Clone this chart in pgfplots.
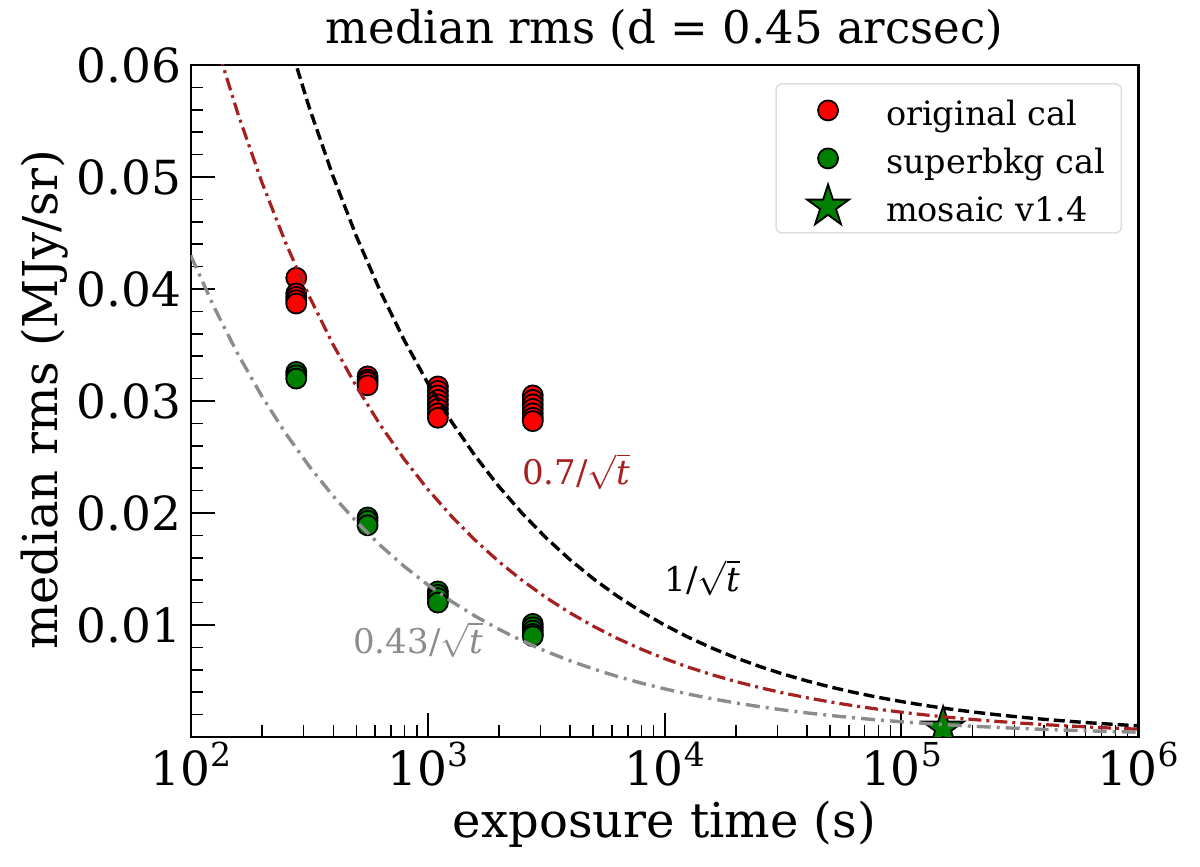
\documentclass[border=0pt]{standalone}
\usepackage{pgfplots}
\pgfplotsset{compat=1.18}
\usepackage{pgfplotstable}
\usepackage{fontspec}
\setmainfont{DejaVu Serif}
\definecolor{lred}{RGB}{165,32,32}
\definecolor{lgray}{RGB}{140,140,140}
\definecolor{mgreen}{RGB}{0,128,0}
\pgfdeclareplotmark{fstar}{%
  \pgfpathmoveto{\pgfpointpolar{90}{\pgfplotmarksize}}%
  \pgfpathlineto{\pgfpointpolar{126}{0.382\pgfplotmarksize}}%
  \pgfpathlineto{\pgfpointpolar{162}{\pgfplotmarksize}}%
  \pgfpathlineto{\pgfpointpolar{198}{0.382\pgfplotmarksize}}%
  \pgfpathlineto{\pgfpointpolar{234}{\pgfplotmarksize}}%
  \pgfpathlineto{\pgfpointpolar{270}{0.382\pgfplotmarksize}}%
  \pgfpathlineto{\pgfpointpolar{306}{\pgfplotmarksize}}%
  \pgfpathlineto{\pgfpointpolar{342}{0.382\pgfplotmarksize}}%
  \pgfpathlineto{\pgfpointpolar{18}{\pgfplotmarksize}}%
  \pgfpathlineto{\pgfpointpolar{54}{0.382\pgfplotmarksize}}%
  \pgfpathclose
  \pgfusepathqfillstroke
}
\newcommand{\ep}[1]{10\raisebox{0.42em}{\fontsize{16.5}{16.5}\selectfont #1}}
\newcommand{\lstrut}{\rule[-9pt]{0pt}{26pt}}

\pgfplotstableread{
t k1 k07 k043
100 0.1 0.07 0.043
125.89 0.089125 0.062387 0.038324
158.49 0.079433 0.055603 0.034156
199.53 0.070795 0.049557 0.030442
251.19 0.063096 0.044167 0.027131
316.23 0.056234 0.039364 0.024181
398.11 0.050119 0.035083 0.021551
501.19 0.044668 0.031268 0.019207
630.96 0.039811 0.027868 0.017119
794.33 0.035481 0.024837 0.015257
1000 0.031623 0.022136 0.013598
1258.9 0.028184 0.019729 0.012119
1584.9 0.025119 0.017583 0.010801
1995.3 0.022387 0.015671 0.0096264
2511.9 0.019953 0.013967 0.0085798
3162.3 0.017783 0.012448 0.0076467
3981.1 0.015849 0.011094 0.0068151
5011.9 0.014125 0.0098875 0.0060738
6309.6 0.012589 0.0088123 0.0054133
7943.3 0.011220 0.0078540 0.0048246
10000 0.01 0.007 0.0043
12589 0.0089125 0.0062387 0.0038324
15849 0.0079433 0.0055603 0.0034156
19953 0.0070795 0.0049557 0.0030442
25119 0.0063096 0.0044167 0.0027131
31623 0.0056234 0.0039364 0.0024181
39811 0.0050119 0.0035083 0.0021551
50119 0.0044668 0.0031268 0.0019207
63096 0.0039811 0.0027868 0.0017119
79433 0.0035481 0.0024837 0.0015257
100000 0.0031623 0.0022136 0.0013598
125893 0.0028184 0.0019729 0.0012119
158489 0.0025119 0.0017583 0.0010801
199526 0.0022387 0.0015671 0.00096264
251189 0.0019953 0.0013967 0.00085798
316228 0.0017783 0.0012448 0.00076467
398107 0.0015849 0.0011094 0.00068151
501187 0.0014125 0.00098875 0.00060738
630957 0.0012589 0.00088123 0.00054133
794328 0.0011220 0.00078540 0.00048246
1000000 0.001 0.0007 0.00043
}\curves

\pgfplotstableread{
t rms
279 0.0410
279 0.0396
279 0.0393
279 0.0390
279 0.0387
558 0.0322
558 0.0319
558 0.0317
558 0.0314
1105 0.0313
1105 0.0309
1105 0.0305
1105 0.0301
1105 0.0297
1105 0.0293
1105 0.0289
1105 0.0285
2780 0.0305
2780 0.0301
2780 0.0297
2780 0.0293
2780 0.0289
2780 0.0285
2780 0.0282
}\orig

\pgfplotstableread{
t rms
279 0.0326
279 0.0323
279 0.0320
558 0.0196
558 0.0193
558 0.0189
1105 0.0130
1105 0.0127
1105 0.0124
1105 0.0120
2780 0.0101
2780 0.0098
2780 0.0095
2780 0.0092
2780 0.0090
}\superbkg

\pgfplotstableread{
t rms
150000 0.00078
}\mosaic

\begin{document}
\begin{tikzpicture}
\useasboundingbox (-95.35pt,-65pt) rectangle (504.65pt,368.5pt);
\begin{axis}[
  at={(0,0)}, anchor=south west,
  scale only axis, width=473.8pt, height=336pt,
  xmode=log, xmin=100, xmax=1000000, ymin=0, ymax=0.06,
  scaled y ticks=false,
  xtick={100,1000,10000,100000,1000000},
  xticklabels={\ep{2},\ep{3},\ep{4},\ep{5},\ep{6}},
  minor xtick={200,300,400,500,600,700,800,900,2000,3000,4000,5000,6000,7000,8000,9000,20000,30000,40000,50000,60000,70000,80000,90000,200000,300000,400000,500000,600000,700000,800000,900000},
  ytick={0.01,0.02,0.03,0.04,0.05,0.06},
  yticklabels={0.01,0.02,0.03,0.04,0.05,0.06},
  minor ytick={0.002,0.004,0.006,0.008,0.012,0.014,0.016,0.018,0.022,0.024,0.026,0.028,0.032,0.034,0.036,0.038,0.042,0.044,0.046,0.048,0.052,0.054,0.056,0.058},
  tick pos=left, tick align=inside,
  major tick length=12pt, minor tick length=6pt,
  every major tick/.append style={line width=1pt, black},
  every minor tick/.append style={line width=0.75pt, black},
  axis line style={line width=1.2pt},
  ticklabel style={font=\fontsize{23.5}{23.5}\selectfont},
  xticklabel style={anchor=base, inner sep=0pt, yshift=-24.5pt},
  yticklabel style={anchor=east, inner sep=0pt, xshift=-4.5pt},
  clip marker paths=true,
  legend style={at={(rel axis cs:0.983,0.973)}, anchor=north east,
    draw=black!13, line width=0.8pt, rounded corners=3pt, fill=white,
    inner xsep=6pt, inner ysep=2pt, row sep=1.5pt,
    font=\fontsize{16.75}{16.75}\selectfont,
    /tikz/every odd column/.append style={column sep=17pt}},
  legend cell align=left,
  legend image code/.code={\path[draw=none,fill=none] (-20pt,-6pt) rectangle (10pt,6pt); \draw[#1, overlay] plot coordinates {(0pt,0pt)};},
]
\addplot[only marks, mark=*, mark size=5pt, mark options={draw=black, fill=red, line width=0.9pt}] table[x=t,y=rms]{\orig};
\addlegendentry{\lstrut original cal}
\addplot[only marks, mark=*, mark size=5pt, mark options={draw=black, fill=mgreen, line width=0.9pt}] table[x=t,y=rms]{\superbkg};
\addlegendentry{\lstrut superbkg cal}
\addplot[only marks, mark=fstar, mark size=11pt, mark options={draw=black, fill=mgreen, line width=0.9pt, line join=miter}] table[x=t,y=rms]{\mosaic};
\addlegendentry{\lstrut mosaic v1.4}
\addplot[forget plot, black, line width=1.7pt, dash pattern=on 5.5pt off 2.5pt] table[x=t,y=k1]{\curves};
\addplot[forget plot, lred, line width=1.6pt, dash pattern=on 6.5pt off 2.5pt on 1.5pt off 2.5pt] table[x=t,y=k07]{\curves};
\addplot[forget plot, lgray, line width=1.7pt, dash pattern=on 7pt off 3pt on 1.5pt off 3pt] table[x=t,y=k043]{\curves};
\node[anchor=west, text=lred, font=\fontsize{17}{17}\selectfont, inner sep=0pt] at (axis cs:2500,0.0237) {0.7/$\sqrt{\mbox{\itshape t}}$};
\node[anchor=west, text=black, font=\fontsize{17}{17}\selectfont, inner sep=0pt] at (axis cs:10000,0.0142) {1/$\sqrt{\mbox{\itshape t}}$};
\node[anchor=west, text=lgray, font=\fontsize{17}{17}\selectfont, inner sep=0pt] at (axis cs:484,0.00866) {0.43/$\sqrt{\mbox{\itshape t}}$};
\end{axis}
\node[anchor=base, font=\fontsize{22.5}{22.5}\selectfont] at (236.9pt,346.5pt) {median rms (d = 0.45 arcsec)};
\node[anchor=base, font=\fontsize{24}{24}\selectfont] at (236.9pt,-50.5pt) {exposure time (s)};
\node[anchor=base, rotate=90, font=\fontsize{24}{24}\selectfont] at (-66.8pt,168.5pt) {median rms (MJy/sr)};
\end{tikzpicture}
\end{document}
